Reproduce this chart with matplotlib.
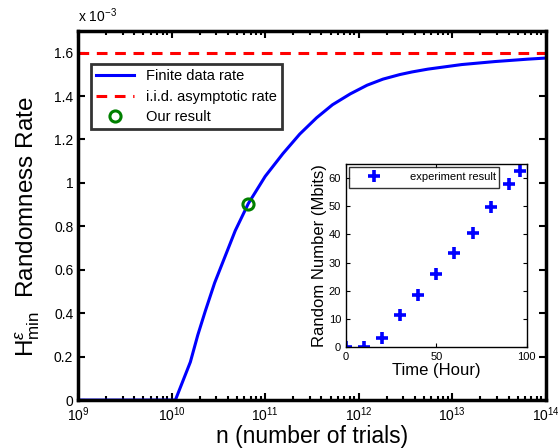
import numpy as np
import matplotlib
matplotlib.use("Agg")
import matplotlib.pyplot as plt
from matplotlib.ticker import LogLocator, NullFormatter

plt.rcParams["font.family"] = ["Liberation Sans", "DejaVu Sans"]
plt.rcParams["mathtext.fontset"] = "custom"
plt.rcParams["mathtext.rm"] = "Liberation Sans"
plt.rcParams["mathtext.it"] = "Liberation Sans:italic"

# finite data rate curve (n as log10 exponent, rate in units of 1e-3)
log_n = [9.0, 10.04, 10.20, 10.28, 10.36, 10.46, 10.57, 10.68, 10.82, 11.0,
         11.19, 11.37, 11.55, 11.72, 11.91, 12.09, 12.26, 12.44, 12.57, 12.74,
         13.10, 13.46, 13.81, 14.0]
finite_rate = [0.0, 0.0, 0.175, 0.30, 0.41, 0.54, 0.66, 0.78, 0.905, 1.03,
               1.135, 1.225, 1.30, 1.36, 1.41, 1.45, 1.478, 1.499, 1.511, 1.524,
               1.545, 1.559, 1.570, 1.575]
iid_rate = 1.6
our_log_n = 10.82
our_rate = 0.905

# inset data
hours = [0, 10, 20, 30, 40, 50, 60, 70, 80, 90, 96]
mbits = [0, 0, 3.4, 11.5, 18.6, 25.9, 33.3, 40.5, 49.8, 57.8, 62.6]

fig = plt.figure(figsize=(5.58, 4.48), dpi=100)
ax = fig.add_axes([0.140, 0.107, 0.838, 0.824])

n_vals = [10 ** v for v in log_n]
ax.plot(n_vals, finite_rate, color="#0000ff", lw=2.2, label="Finite data rate")
ax.plot([1e9, 1e14], [iid_rate, iid_rate], color="#ff0000", lw=2.2,
        ls=(0, (3.5, 2.5)), label="i.i.d. asymptotic rate")
ax.plot([10 ** our_log_n], [our_rate], "o", mfc="none", mec="#008000", mew=2.2,
        ms=8, ls="none", label="Our result")

ax.set_xscale("log")
ax.set_xlim(1e9, 1e14)
ax.set_ylim(0, 1.7)
ax.set_xticks([1e9, 1e10, 1e11, 1e12, 1e13, 1e14])
ax.xaxis.set_minor_locator(LogLocator(base=10, subs=np.arange(2, 10)))
ax.xaxis.set_minor_formatter(NullFormatter())
ax.set_yticks([0, 0.2, 0.4, 0.6, 0.8, 1.0, 1.2, 1.4, 1.6])
ax.set_yticklabels(["0", "0.2", "0.4", "0.6", "0.8", "1", "1.2", "1.4", "1.6"])
ax.tick_params(which="both", direction="in", top=True, right=True, labelsize=10,
               width=1.5)
ax.tick_params(which="major", length=5)
ax.tick_params(which="minor", length=3)
for s in ax.spines.values():
    s.set_linewidth(2.5)

ax.set_xlabel("n (number of trials)", fontsize=16.5, labelpad=1)
ax.set_ylabel(r"H$^{\varepsilon}_{\mathrm{min}}$  Randomness Rate", fontsize=17.5)
ax.yaxis.set_label_coords(-0.078, 0.47)
ax.text(0.0, 1.015, r"x 10$^{-3}$", transform=ax.transAxes, fontsize=10,
        ha="left", va="bottom")

leg = ax.legend(loc="upper left", bbox_to_anchor=(0.012, 0.93), fontsize=10.5,
                frameon=True, fancybox=False, edgecolor="black",
                handlelength=2.6, borderpad=0.35, labelspacing=0.45)
leg.get_frame().set_linewidth(2.0)

# inset
ax2 = fig.add_axes([0.620, 0.225, 0.324, 0.409])
ax2.plot(hours, mbits, "+", color="#0000ff", ms=8, mew=2.6, ls="none",
         label="experiment result")
ax2.set_xlim(0, 100)
ax2.set_ylim(0, 65)
ax2.set_xticks([0, 50, 100])
ax2.set_yticks([0, 10, 20, 30, 40, 50, 60])
ax2.tick_params(direction="in", top=True, right=True, labelsize=8, length=3)
for s in ax2.spines.values():
    s.set_linewidth(1.0)
ax2.set_xlabel("Time (Hour)", fontsize=12, labelpad=1)
ax2.set_ylabel("Random Number (Mbits)", fontsize=12, labelpad=1)
leg2 = ax2.legend(loc="upper left", bbox_to_anchor=(0.017, 0.985, 0.83, 0),
                  mode="expand", fontsize=8, frameon=True, fancybox=False,
                  edgecolor="black", borderpad=0.5, handlelength=3.5,
                  handletextpad=1.5, borderaxespad=0)
leg2.get_frame().set_linewidth(1.0)

fig.savefig("out.png", dpi=100)
